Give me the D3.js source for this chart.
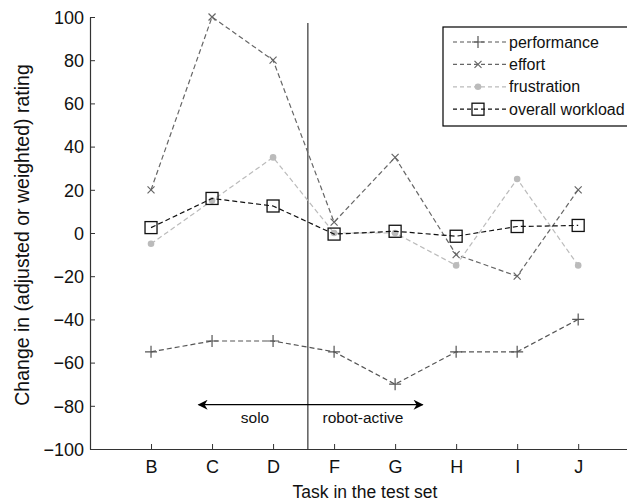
<!DOCTYPE html>
<html><head><meta charset="utf-8">
<script src="https://cdn.jsdelivr.net/npm/d3@7"></script>
<style>body{margin:0;background:#fff}svg{display:block}text{font-family:"Liberation Sans",Arial,sans-serif}</style>
</head><body><div id="chart"></div>
<script>
const categories = ["B","C","D","F","G","H","I","J"];
const performance = [-55,-50,-50,-55,-70,-55,-55,-40];
const effort = [20,100,80,5,35,-10,-20,20];
const frustration = [-5,15,35,0,0,-15,25,-15];
const overallWorkload = [2.5,16,12.5,-0.5,0.8,-1.5,3,3.5];
const yTicks = [-100,-80,-60,-40,-20,0,20,40,60,80,100];
const seriesNames = ["performance","effort","frustration","overall workload"];

const W=627,H=502;
const svg=d3.select("#chart").append("svg").attr("width",W).attr("height",H);
const x=d3.scaleLinear().domain([0,8.8]).range([90,627]);
const y=d3.scaleLinear().domain([-100,100]).range([449,17]);
const xi=i=>x(i+1);

const series=[
 {name:seriesNames[0],values:performance,color:"#555",dash:"5,3",marker:"plus"},
 {name:seriesNames[1],values:effort,color:"#666",dash:"5,3",marker:"cross"},
 {name:seriesNames[2],values:frustration,color:"#bbb",dash:"5,3",marker:"dot"},
 {name:seriesNames[3],values:overallWorkload,color:"#111",dash:"5,3",marker:"square"}
];

// axes
const yAxis=d3.axisLeft(y).tickValues(yTicks).tickSizeInner(-5).tickSizeOuter(0).tickPadding(6);
const gy=svg.append("g").attr("transform","translate(90,0)").call(yAxis);
const xAxis=d3.axisBottom(x).tickValues(categories.map((c,i)=>i+1)).tickFormat((d,i)=>categories[i]).tickSizeInner(-5).tickSizeOuter(0).tickPadding(11);
const gx=svg.append("g").attr("transform","translate(0,449)").call(xAxis);
[gy,gx].forEach(g=>{g.select(".domain").attr("stroke","#333").attr("stroke-width",1.2);
 g.selectAll(".tick line").attr("stroke","#333");
 g.selectAll(".tick text").attr("font-size",18).attr("fill","#111");});
gy.selectAll(".tick text").attr("dy","0.35em");

svg.append("text").attr("transform","translate(29,235) rotate(-90)").attr("text-anchor","middle")
 .attr("font-size",19.5).attr("fill","#111").text("Change in (adjusted or weighted) rating");
svg.append("text").attr("x",365).attr("y",498).attr("text-anchor","middle")
 .attr("font-size",17.5).attr("fill","#111").text("Task in the test set");

// divider
const divider=3.57;
svg.append("line").attr("x1",x(divider)).attr("x2",x(divider)).attr("y1",23).attr("y2",449)
 .attr("stroke","#444").attr("stroke-width",1.3);

// arrow
const defs=svg.append("defs");
defs.append("marker").attr("id","ah").attr("viewBox","0 0 10 10").attr("refX",9).attr("refY",5)
 .attr("markerWidth",15).attr("markerHeight",10).attr("markerUnits","userSpaceOnUse").attr("orient","auto-start-reverse")
 .append("path").attr("d","M0,0 L10,5 L0,10 L3,5 Z").attr("fill","#000");
svg.append("line").attr("x1",x(1.78)).attr("x2",x(5.45)).attr("y1",y(-79.5)).attr("y2",y(-79.5))
 .attr("stroke","#000").attr("stroke-width",1.3).attr("marker-start","url(#ah)").attr("marker-end","url(#ah)");
svg.append("text").attr("x",255).attr("y",423).attr("text-anchor","middle").attr("font-size",15.5).attr("fill","#111").text("solo");
svg.append("text").attr("x",363).attr("y",423).attr("text-anchor","middle").attr("font-size",15.5).attr("fill","#111").text("robot-active");

function drawMarker(g,type,cx,cy,color){
 if(type==="plus"){
  g.append("path").attr("d",`M${cx-6},${cy}H${cx+6}M${cx},${cy-6}V${cy+6}`).attr("stroke",color).attr("stroke-width",1.2).attr("fill","none");
 } else if(type==="cross"){
  g.append("path").attr("d",`M${cx-3.5},${cy-3.5}L${cx+3.5},${cy+3.5}M${cx-3.5},${cy+3.5}L${cx+3.5},${cy-3.5}`).attr("stroke",color).attr("stroke-width",1.2).attr("fill","none");
 } else if(type==="dot"){
  g.append("circle").attr("cx",cx).attr("cy",cy).attr("r",3.3).attr("fill",color);
 } else {
  g.append("rect").attr("x",cx-6).attr("y",cy-6).attr("width",12).attr("height",12).attr("fill","none").attr("stroke",color).attr("stroke-width",1.3);
 }
}

const line=d3.line().x((d,i)=>xi(i)).y(d=>y(d));
series.forEach(s=>{
 const g=svg.append("g");
 g.append("path").datum(s.values).attr("d",line).attr("fill","none").attr("stroke",s.color)
  .attr("stroke-width",1.2).attr("stroke-dasharray",s.dash);
 s.values.forEach((v,i)=>drawMarker(g,s.marker,xi(i),y(v),s.color));
});

// legend
const lg=svg.append("g");
lg.append("rect").attr("x",443).attr("y",27).attr("width",200).attr("height",99).attr("fill","#fff").attr("stroke","#000").attr("stroke-width",1.2);
series.forEach((s,i)=>{
 const ly=42+i*22.4;
 lg.append("line").attr("x1",453).attr("x2",506).attr("y1",ly).attr("y2",ly).attr("stroke",s.color).attr("stroke-width",1.2).attr("stroke-dasharray","4,3");
 drawMarker(lg,s.marker,478,ly,s.color);
 lg.append("text").attr("x",509).attr("y",ly).attr("dy","0.35em").attr("font-size",16).attr("fill","#111").text(s.name);
});
</script></body></html>
